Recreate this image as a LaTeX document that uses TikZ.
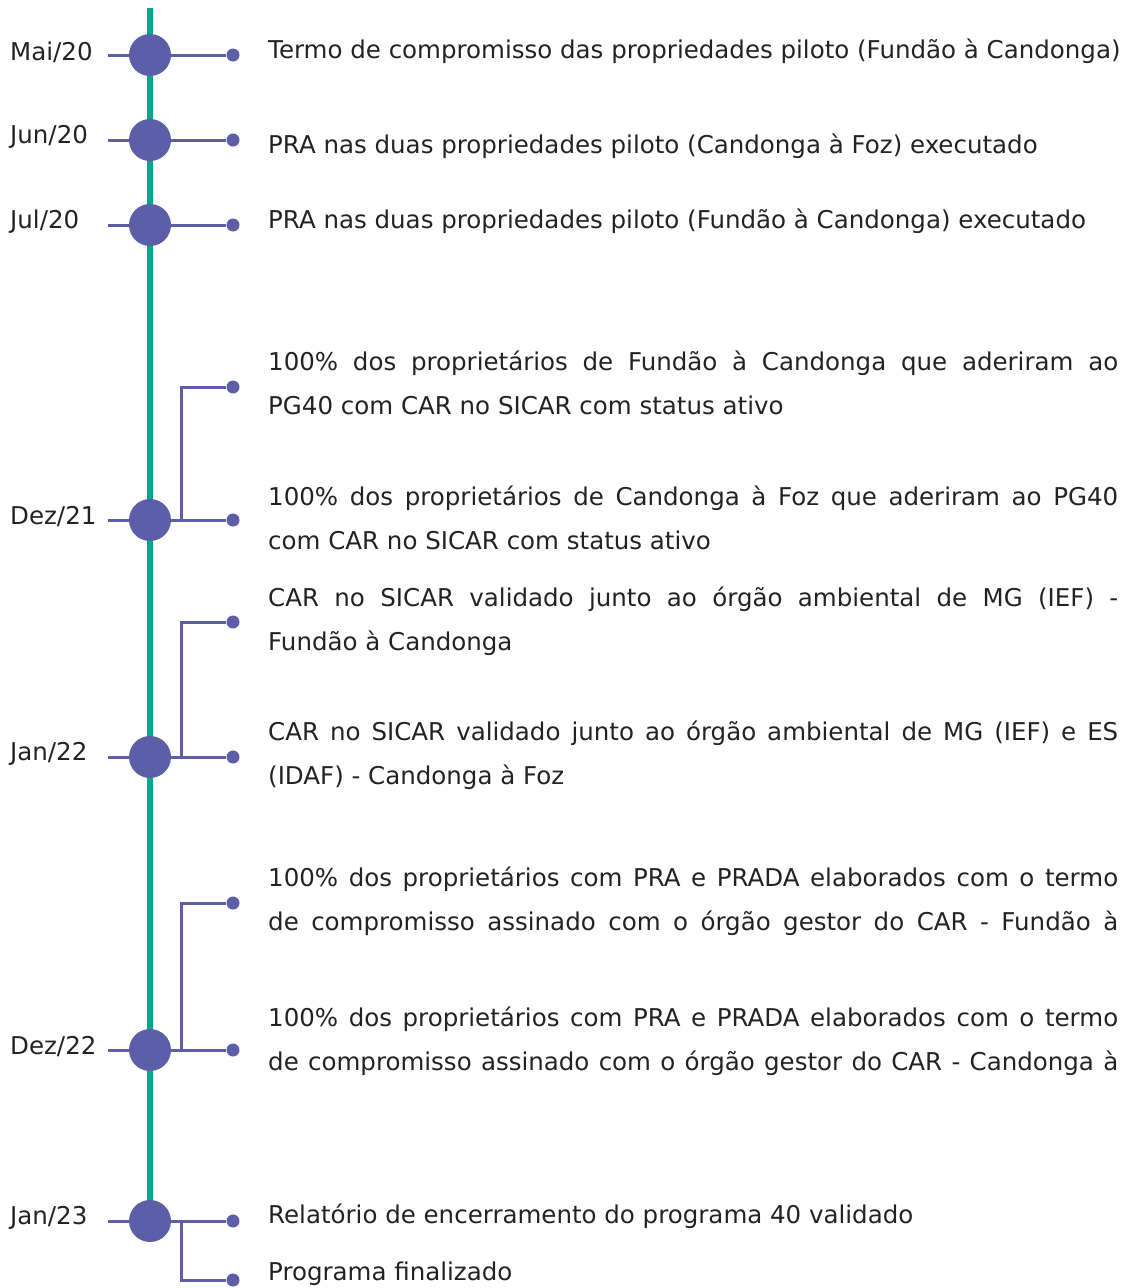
\documentclass[tikz,border=0pt]{standalone}
\usepackage{fontspec}
\setmainfont{DejaVu Sans}
\usepackage{xcolor}
\usetikzlibrary{positioning, calc}

\definecolor{tlgreen}{HTML}{00A88C}
\definecolor{tlpurple}{HTML}{5C5EA8}
\definecolor{tltext}{HTML}{222222}

% justified line across the text column
\newcommand{\fullline}[1]{\makebox[850pt][s]{#1}}

\tikzset{
   bigdot/.style={circle, fill=tlpurple, minimum size=42pt, inner sep=0pt},
   smalldot/.style={circle, fill=tlpurple, minimum size=13pt, inner sep=0pt},
   datelbl/.style={anchor=west, inner sep=0pt, text=tltext, font=\fontsize{24.5}{28}\selectfont},
   milestone/.style={anchor=west, inner sep=0pt, align=left, text=tltext, font=\fontsize{24.5}{44}\selectfont},
   tick/.style={draw=tlpurple, line width=3pt},
}

\begin{document}
\begin{tikzpicture}[x=1pt, y=-1pt]
\useasboundingbox (0,0) rectangle (1122,1288);
\clip (0,0) rectangle (1122,1288);

% Spine
\coordinate (spinetop) at (150,8);
\coordinate (spinebot) at (150,1221);
\draw[tlgreen, line width=6pt] (spinetop) -- (spinebot);

% Branches to the upper milestones
\coordinate (brd) at (181,520);
\node[smalldot] (upd) at (233,387) {};
\draw[tick] (brd) |- (upd);
\coordinate (bre) at (181,757);
\node[smalldot] (upe) at (233,622) {};
\draw[tick] (bre) |- (upe);
\coordinate (brf) at (181,1050);
\node[smalldot] (upf) at (233,903) {};
\draw[tick] (brf) |- (upf);
\coordinate (brg) at (181,1221);
\node[smalldot] (dng) at (233,1280) {};
\draw[tick] (brg) |- (dng);

% Dates
\foreach \n/\y/\d in {a/55/{Mai/20}, b/140/{Jun/20}, c/225/{Jul/20}, d/520/{Dez/21}, e/757/{Jan/22}, f/1050/{Dez/22}, g/1221/{Jan/23}} {
   \node[datelbl] (lbl\n) at (10,\y-3) {\d};
   \coordinate (tk\n) at (108,\y);
   \node[smalldot] (end\n) at (233,\y) {};
   \draw[tick] (tk\n) -- (end\n);
   \node[bigdot] (m\n) at (150,\y) {};
}

% Milestones
\node[milestone] (ta) at (268,51) {Termo de compromisso das propriedades piloto (Fundão à Candonga)};
\node[milestone] (tb) at (268,146) {PRA nas duas propriedades piloto (Candonga à Foz) executado};
\node[milestone] (tc) at (268,221) {PRA nas duas propriedades piloto (Fundão à Candonga) executado};
\node[milestone] (td1) at (268,383) {\fullline{100\% dos proprietários de Fundão à Candonga que aderiram ao}\\PG40 com CAR no SICAR com status ativo};
\node[milestone] (td2) at (268,518) {\fullline{100\% dos proprietários de Candonga à Foz que aderiram ao PG40}\\com CAR no SICAR com status ativo};
\node[milestone] (te1) at (268,621) {\fullline{CAR no SICAR validado junto ao órgão ambiental de MG (IEF) -}\\Fundão à Candonga};
\node[milestone] (te2) at (268,755) {\fullline{CAR no SICAR validado junto ao órgão ambiental de MG (IEF) e ES}\\(IDAF) - Candonga à Foz};
\node[milestone] (tf1) at (268,901) {\fullline{100\% dos proprietários com PRA e PRADA elaborados com o termo}\\\fullline{de compromisso assinado com o órgão gestor do CAR - Fundão à}};
\node[milestone] (tf2) at (268,1041) {\fullline{100\% dos proprietários com PRA e PRADA elaborados com o termo}\\\fullline{de compromisso assinado com o órgão gestor do CAR - Candonga à}};
\node[milestone] (tg1) at (268,1216) {Relatório de encerramento do programa 40 validado};
\node[milestone] (tg2) at (268,1274) {Programa finalizado};
\end{tikzpicture}
\end{document}
